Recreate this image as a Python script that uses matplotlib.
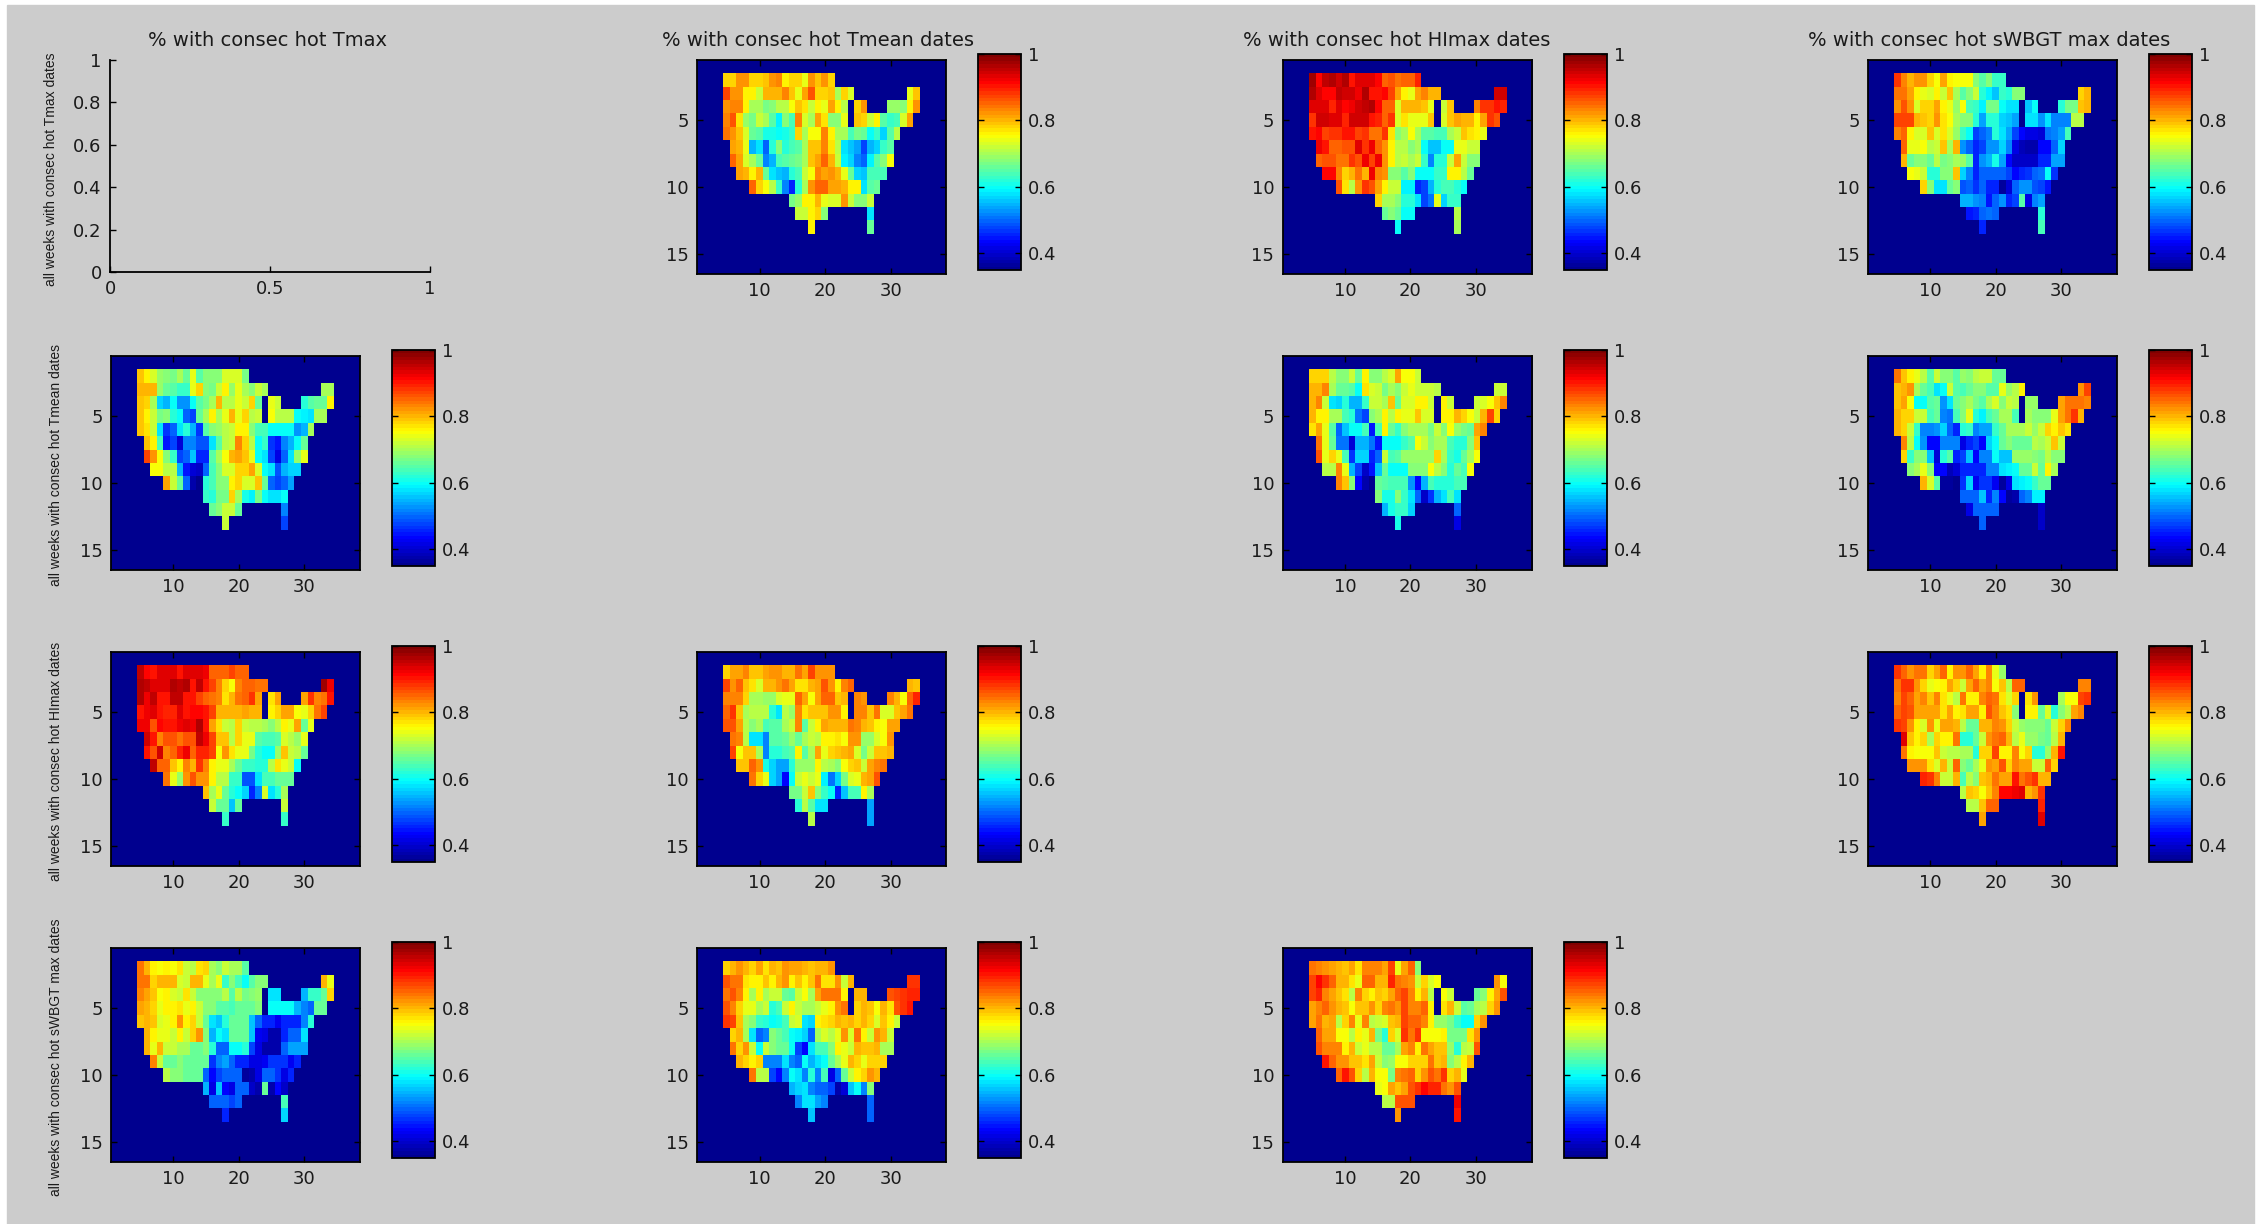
import numpy as np
import matplotlib
matplotlib.use("Agg")
import matplotlib.pyplot as plt
from matplotlib.colors import LinearSegmentedColormap
from matplotlib.patches import Rectangle

W, H = 2262, 1224

# grid cells with data: (row, first column, last column), 1-based
row_spans = {
    2: [(5, 21)],
    3: [(5, 24), (33, 34)],
    4: [(5, 23), (25, 26), (30, 34)],
    5: [(5, 23), (25, 33)],
    6: [(5, 31)],
    7: [(6, 30)],
    8: [(6, 30)],
    9: [(7, 29)],
    10: [(9, 28)],
    11: [(15, 27)],
    12: [(16, 20), (27, 27)],
    13: [(18, 18), (27, 27)],
}

# values in percent, one list per map row 2..13
tmax_vs_tmean = [
    [78,78,82,82,78,78,79,82,83,76,78,78,74,82,79,82,78],
    [87,82,82,76,76,72,80,80,80,83,79,74,81,86,78,78,79,70,78,73,74,79],
    [82,83,83,76,70,70,67,68,71,71,75,79,77,72,76,74,81,76,71,78,82,69,69,68,76,82],
    [83,86,77,69,67,72,70,65,59,68,64,83,73,70,81,77,68,68,74,79,78,72,76,65,63,64,73,81],
    [84,82,79,73,66,65,61,61,60,61,63,78,70,75,75,83,76,70,70,64,67,66,60,63,57,65,71],
    [81,80,74,55,58,50,62,68,62,64,65,70,79,79,83,77,71,58,56,54,48,55,57,63,65],
    [85,81,73,70,66,52,55,64,65,66,67,70,79,81,85,80,72,59,57,52,50,59,65,68,75],
    [81,80,76,80,66,58,56,55,62,64,72,75,83,81,82,80,74,66,57,56,64,64,64],
    [85,78,75,71,63,52,46,62,70,82,85,85,81,81,80,76,76,58,65,66],
    [67,69,76,76,80,74,73,73,82,72,68,68,72],
    [72,72,76,78,68,58],
    [76,66],
]
tmax_vs_himax = [
    [97,91,95,96,94,96,90,93,93,93,91,85,86,84,85,85,89],
    [96,93,91,91,95,94,94,92,96,90,90,91,87,81,76,74,81,83,80,80,94,94],
    [93,93,93,89,93,91,92,94,95,96,91,85,85,73,80,80,80,79,74,72,79,83,88,88,90,89],
    [88,94,94,93,93,89,94,94,94,90,89,85,88,73,77,74,74,74,79,73,79,81,80,80,76,81,88,86],
    [90,91,87,88,88,90,90,87,88,84,84,88,77,68,70,75,70,65,65,64,64,70,72,79,77,76,74],
    [92,90,85,85,86,86,93,88,92,85,82,76,71,71,68,70,60,56,56,60,60,74,74,72,72],
    [85,86,86,84,84,88,86,92,87,92,82,76,71,72,70,72,63,52,62,62,72,81,72,68,68],
    [91,91,83,78,80,84,80,92,83,82,68,68,65,68,60,60,60,63,63,76,76,71,66],
    [86,77,71,82,88,86,81,76,72,72,59,59,46,48,55,62,64,64,62,60],
    [78,70,70,68,62,62,58,48,51,74,57,63,63],
    [66,68,66,60,60,71],
    [60,70],
]
tmax_vs_swbgt = [
    [88,83,80,82,82,78,75,81,76,75,75,75,68,65,68,63,63],
    [84,84,81,76,74,73,76,72,79,70,65,68,72,62,59,56,63,62,68,68,78,80],
    [82,86,82,73,78,78,81,76,74,69,75,64,63,59,67,67,60,58,58,56,60,62,67,67,79,80],
    [87,87,87,80,79,78,82,77,75,70,68,68,62,54,62,62,57,56,54,58,58,53,58,52,52,52,71,71],
    [83,85,76,73,73,79,73,77,73,69,63,60,48,50,52,62,58,54,48,44,42,42,41,51,52,54,64],
    [85,74,74,75,71,72,79,70,80,53,50,46,48,53,53,57,52,42,39,38,38,44,44,50,57],
    [80,66,68,68,66,71,67,68,70,69,65,46,53,55,61,54,44,40,40,40,40,46,46,54,54],
    [75,74,72,62,62,68,68,79,57,52,46,50,50,50,50,48,44,46,47,50,51,60,47],
    [78,68,58,58,66,68,49,50,47,50,46,46,37,41,50,53,53,49,48,45],
    [55,55,53,52,45,50,53,46,48,65,42,52,54],
    [45,46,50,51,50,62],
    [46,64],
]
tmean_vs_tmax = [
    [79,76,73,69,68,67,70,66,74,65,68,68,68,73,73,73,67],
    [80,80,80,69,66,65,63,63,74,78,68,67,72,76,69,74,70,68,72,70,70,70],
    [79,78,70,57,55,60,53,53,60,65,67,70,80,71,71,74,72,78,66,74,72,62,65,66,66,76],
    [79,76,72,67,68,62,60,50,48,66,70,76,70,74,80,74,78,71,72,75,71,71,71,60,59,58,70,70],
    [79,77,72,58,47,50,58,62,55,47,65,68,69,71,72,76,76,68,64,64,60,60,60,60,53,55,70],
    [79,76,64,45,48,41,52,52,49,49,58,65,71,72,83,78,71,60,63,47,45,52,55,60,66],
    [87,82,75,68,63,48,50,56,46,46,65,70,75,80,81,79,74,60,58,48,42,50,58,69,74],
    [75,75,71,71,55,45,41,40,50,64,68,73,73,78,78,81,73,60,58,49,55,57,57],
    [81,72,66,50,38,35,62,64,68,68,76,78,73,73,79,66,50,48,50,54],
    [63,62,67,67,78,70,61,59,67,60,58,58,60],
    [66,68,72,72,66,52],
    [72,48],
]
tmean_vs_himax = [
    [78,78,78,71,68,68,72,66,76,68,68,71,73,81,75,75,72],
    [80,80,83,70,66,66,65,60,77,73,72,67,70,68,72,74,72,72,72,71,72,72],
    [80,83,72,58,57,62,55,55,63,72,72,70,79,66,73,73,76,76,72,76,72,72,73,75,79,83],
    [80,76,76,70,70,64,62,51,48,68,70,76,71,76,74,74,79,73,73,76,76,80,78,75,72,80,87,78],
    [77,81,74,65,50,56,60,60,64,45,64,76,66,63,68,70,70,70,67,72,68,75,69,67,66,81,83],
    [84,74,66,51,51,41,55,55,51,45,60,60,60,63,65,75,72,68,70,70,64,62,62,68,79],
    [86,74,78,74,64,47,57,57,46,50,72,64,65,69,69,69,69,69,78,70,63,61,66,70,75],
    [71,71,83,74,55,48,40,45,56,66,60,60,60,68,68,68,75,71,68,62,66,64,75],
    [83,79,68,44,38,36,66,65,64,64,64,53,44,55,64,62,62,62,64,64],
    [68,61,61,68,63,58,50,40,47,55,58,64,58],
    [55,61,63,63,57,50],
    [61,42],
]
tmean_vs_swbgt = [
    [84,79,76,74,71,65,72,68,68,65,69,68,71,72,72,66,66],
    [79,80,82,70,66,64,58,60,72,65,64,66,68,68,65,65,74,69,71,76,82,87],
    [79,81,75,60,60,65,66,53,58,66,68,70,67,65,70,73,68,72,71,69,69,81,84,84,84,83],
    [80,78,78,72,72,64,66,52,51,64,68,74,62,59,64,66,70,70,64,70,68,68,68,74,81,84,88,80],
    [80,78,72,63,52,52,53,57,50,46,62,63,52,54,54,63,66,70,70,70,72,69,72,78,76,79,77],
    [83,71,60,53,44,44,52,52,52,42,46,48,44,57,60,66,68,66,66,66,71,70,72,79,72],
    [78,63,68,68,56,41,62,65,46,48,56,44,52,52,60,56,56,69,69,69,68,67,71,68,68],
    [68,70,74,68,44,44,39,41,46,46,46,46,52,52,58,59,60,66,66,72,66,76,70],
    [80,73,65,37,37,36,47,57,43,47,47,43,37,42,58,59,60,63,66,66],
    [50,50,50,56,46,52,44,37,38,50,52,59,59],
    [42,50,50,50,50,40],
    [50,40],
]
himax_vs_tmax = [
    [95,91,90,93,93,93,90,93,93,93,92,85,85,85,87,85,85],
    [96,95,93,93,93,96,95,96,90,95,90,87,83,78,75,83,85,85,84,84,97,92],
    [96,92,95,90,90,95,95,90,90,87,85,84,83,77,80,84,85,88,81,77,81,81,88,83,84,90],
    [90,92,93,90,89,89,93,90,91,91,90,87,80,80,80,80,81,80,80,76,78,81,81,75,74,78,84,87],
    [92,92,86,91,90,90,92,93,92,96,90,81,77,72,71,78,72,71,71,70,68,71,76,74,81,66,74],
    [94,90,83,86,86,84,86,86,95,92,87,79,79,71,78,74,74,65,64,64,65,73,71,69,74],
    [90,86,94,83,85,89,92,85,89,89,87,75,82,77,74,74,67,62,60,60,69,79,72,71,66],
    [95,85,85,79,76,83,80,88,83,76,74,74,70,66,63,63,62,62,71,77,74,72,60],
    [84,74,69,82,86,82,82,76,71,71,63,63,49,49,58,64,64,66,66,66],
    [79,70,74,66,62,60,57,46,52,73,58,62,70],
    [72,66,66,56,66,72],
    [63,63],
]
himax_vs_tmean = [
    [78,81,81,83,79,79,81,82,82,80,80,84,81,87,82,82,82],
    [87,82,85,79,77,73,80,80,82,84,81,77,77,80,81,86,82,76,83,85,80,79],
    [83,83,83,78,70,70,69,69,73,74,74,85,81,75,81,85,85,79,80,83,82,83,80,75,85,89],
    [85,88,79,70,71,71,71,62,58,71,69,83,77,79,79,79,82,82,76,83,83,79,84,73,73,79,81,84],
    [86,86,81,71,68,70,64,65,65,70,72,83,65,72,76,81,80,80,80,84,83,80,79,76,75,81,81],
    [84,83,71,58,58,52,65,65,66,69,66,70,72,71,76,76,77,75,82,82,69,69,73,75,82],
    [87,75,79,79,70,52,62,62,64,65,76,65,70,81,74,78,79,80,81,73,67,72,79,79,80],
    [79,79,85,82,61,57,54,54,62,69,69,69,76,71,70,68,75,78,79,72,81,83,84],
    [84,78,74,57,54,44,60,72,74,72,74,59,51,57,67,73,74,80,81,86],
    [67,67,72,79,68,63,60,46,56,64,64,76,70],
    [62,71,65,58,58,54],
    [71,54],
]
himax_vs_swbgt = [
    [88,85,82,84,84,78,81,85,76,82,82,85,81,76,83,74,69],
    [84,88,88,82,78,74,75,76,81,78,72,81,85,81,83,75,79,71,85,85,83,83],
    [83,87,85,81,83,79,83,77,74,71,84,76,76,83,85,84,77,73,78,77,82,70,75,75,87,88],
    [85,87,86,81,81,81,81,77,81,76,77,81,81,76,86,83,79,77,68,76,76,66,73,62,68,71,81,83],
    [88,87,82,76,73,82,74,81,81,80,71,66,66,80,80,83,82,78,72,69,68,68,68,66,72,78,83],
    [93,79,76,78,70,78,76,76,84,62,62,66,72,82,84,85,80,71,74,69,69,67,66,71,80],
    [84,76,75,75,75,79,72,71,71,70,70,62,78,78,87,76,76,83,75,78,62,62,69,80,90],
    [82,82,82,77,73,80,72,85,68,66,70,74,82,81,86,78,83,81,81,72,72,85,78],
    [89,88,83,72,72,80,64,71,68,79,80,84,81,81,90,84,86,88,80,80],
    [71,79,78,75,79,83,91,91,92,93,80,82,88],
    [71,71,79,85,85,89],
    [81,93],
]
swbgt_vs_tmax = [
    [84,80,76,75,76,75,77,72,71,77,78,70,68,72,70,70,65],
    [84,84,78,80,80,80,73,72,80,80,74,70,74,63,68,64,60,65,68,68,80,74],
    [83,81,79,75,76,73,72,77,72,68,68,68,68,71,65,71,67,68,69,58,58,55,63,63,66,78],
    [81,80,78,74,76,76,77,74,76,72,68,68,65,65,64,66,66,66,68,60,60,60,60,55,52,50,66,66],
    [79,80,79,73,74,76,82,76,78,72,66,58,56,62,66,66,66,56,50,46,46,43,46,46,46,52,62],
    [80,76,74,74,72,76,72,78,82,68,55,60,58,66,66,66,56,43,42,38,38,46,50,50,58],
    [80,74,80,72,72,70,70,66,66,68,62,50,50,60,60,62,48,42,38,38,38,50,54,54,54],
    [83,72,66,66,68,66,66,66,66,47,52,54,50,46,46,42,42,43,47,47,47,43,46],
    [71,68,68,66,66,66,50,44,48,50,50,50,37,38,42,50,50,47,42,46],
    [55,42,56,44,42,50,50,40,38,66,38,44,40],
    [50,50,50,48,50,64],
    [46,57],
]
swbgt_vs_tmean = [
    [78,80,82,80,78,81,77,80,79,82,81,81,80,79,80,80,82],
    [86,84,84,77,76,76,79,76,80,82,76,79,76,79,84,77,77,82,72,80,88,88],
    [84,86,83,76,70,76,70,72,72,66,65,72,75,70,81,84,84,84,76,80,80,86,87,88,89,89],
    [86,83,78,74,74,70,72,62,64,72,76,72,70,70,72,74,76,82,84,78,80,79,75,80,77,86,88,90],
    [88,87,79,70,68,63,62,60,61,64,72,73,58,57,76,77,78,80,79,80,78,80,78,73,79,76,72],
    [78,80,70,58,50,52,68,66,64,60,59,57,50,70,73,71,74,82,73,84,76,72,82,80,72],
    [84,78,82,72,60,72,68,66,66,60,48,44,58,64,64,68,76,74,72,80,79,79,80,70,70],
    [80,78,76,78,52,52,52,58,52,50,60,55,58,60,66,70,74,80,78,74,78,78,78],
    [84,71,71,48,44,52,60,58,52,62,52,64,42,50,66,72,76,78,82,80],
    [55,57,58,52,50,50,48,38,41,56,60,52,68],
    [52,58,58,54,52,50],
    [56,50],
]
swbgt_vs_himax = [
    [84,83,82,81,80,79,81,77,83,83,83,81,87,74,81,85,68],
    [87,91,88,85,80,80,77,74,85,85,80,80,89,84,83,82,72,78,73,75,82,75],
    [87,89,83,81,79,77,71,83,78,76,79,78,81,85,87,83,76,80,71,75,72,66,68,76,81,86],
    [81,83,85,82,80,79,75,79,79,82,78,83,84,82,87,83,83,85,76,77,80,72,65,66,70,71,78,82],
    [81,84,80,81,71,78,83,74,83,71,72,73,79,80,87,85,85,83,76,69,69,67,63,60,60,78,82],
    [85,81,81,75,75,71,76,74,80,67,62,78,73,88,84,88,75,75,75,76,67,67,67,77,82],
    [86,83,83,83,76,80,72,74,71,71,66,66,70,81,83,76,84,81,79,79,69,62,71,72,86],
    [90,85,82,82,79,79,77,81,72,68,69,75,75,78,78,78,84,79,80,68,71,76,80],
    [85,90,86,78,71,80,75,75,67,83,84,85,78,82,86,84,88,78,80,74],
    [74,75,81,79,81,86,88,91,89,89,84,82,86],
    [71,71,86,86,86,92],
    [82,90],
]

titles = ["% with consec hot Tmax", "% with consec hot Tmean dates",
          "% with consec hot HImax dates", "% with consec hot sWBGT max dates"]
ylabels = ["all weeks with consec hot Tmax dates", "all weeks with consec hot Tmean dates",
           "all weeks with consec hot HImax dates", "all weeks with consec hot sWBGT max dates"]
map_ticks_x = [10, 20, 30]
map_ticks_y = [5, 10, 15]
cbar_ticks = [0.4, 0.6, 0.8, 1.0]
cbar_labels = ["0.4", "0.6", "0.8", "1"]
empty_x_ticks = [0, 0.5, 1]
empty_y_ticks = [0, 0.2, 0.4, 0.6, 0.8, 1]

panels = {
    (0, 1): tmax_vs_tmean, (0, 2): tmax_vs_himax, (0, 3): tmax_vs_swbgt,
    (1, 0): tmean_vs_tmax, (1, 2): tmean_vs_himax, (1, 3): tmean_vs_swbgt,
    (2, 0): himax_vs_tmax, (2, 1): himax_vs_tmean, (2, 3): himax_vs_swbgt,
    (3, 0): swbgt_vs_tmax, (3, 1): swbgt_vs_tmean, (3, 2): swbgt_vs_himax,
}

plt.rcParams["font.family"] = "DejaVu Sans"
GRAY = "#cccccc"
INK = "#1a1a1a"
BG_BLUE = (0, 0, 0.5625)
jet_m = LinearSegmentedColormap.from_list(
    "jet_m",
    [(0, BG_BLUE), (8 / 64, (0, 0, 1)), (24 / 64, (0, 1, 1)), (40 / 64, (1, 1, 0)),
     (56 / 64, (1, 0, 0)), (1, (0.5, 0, 0))], N=64)
jet_m.set_bad(BG_BLUE)
CLIM = (0.35, 1.0)

col_left = [111.0, 697.3, 1282.7, 1868.0]
row_top = [60.0, 356.0, 652.0, 948.0]
AX_W, AX_H = 249.0, 214.0
title_center = [267, 818, 1397, 1989]
TICK_FS = 13


def add_axes_px(x0, y0, x1, y1):
    return fig.add_axes([x0 / W, 1 - y1 / H, (x1 - x0) / W, (y1 - y0) / H])


def to_grid(rows):
    grid = np.full((16, 38), np.nan)
    for (row, spans), vals in zip(row_spans.items(), rows):
        cols = [c for a, b in spans for c in range(a, b + 1)]
        vals = list(vals) + [vals[-1]] * (len(cols) - len(vals))
        for c, v in zip(cols, vals):
            grid[row - 1, c - 1] = v / 100
    return grid


def style_ticks(ax):
    ax.tick_params(direction="in", length=4, width=1, colors="black",
                   labelsize=TICK_FS, labelcolor=INK, pad=6,
                   top=True, right=True)
    for s in ax.spines.values():
        s.set_linewidth(1.3)


fig = plt.figure(figsize=(W / 100, H / 100), dpi=100, facecolor="white")
fig.add_artist(Rectangle((7 / W, 0), (2254 - 7) / W, 1 - 5 / H,
                         transform=fig.transFigure, color=GRAY, zorder=-10))

for (r, c), rows in panels.items():
    x0, y0 = col_left[c], row_top[r]
    ax = add_axes_px(x0, y0, x0 + AX_W, y0 + AX_H)
    im = ax.imshow(to_grid(rows), cmap=jet_m, vmin=CLIM[0], vmax=CLIM[1],
                   extent=(0.5, 38.5, 16.5, 0.5), aspect="auto", interpolation="nearest")
    ax.set_xticks(map_ticks_x)
    ax.set_yticks(map_ticks_y)
    style_ticks(ax)
    cax = add_axes_px(x0 + 281, y0 - 6, x0 + 281 + 43, y0 + AX_H - 4)
    cb = fig.colorbar(im, cax=cax)
    cb.set_ticks(cbar_ticks)
    cb.set_ticklabels(cbar_labels)
    cb.ax.tick_params(direction="in", length=4, width=1, labelsize=TICK_FS,
                      labelcolor=INK, pad=5, left=True, right=True)
    cb.outline.set_linewidth(1.3)

# the empty top-left axes
ax0 = add_axes_px(110, 60, 430, 272)
ax0.set_facecolor("none")
ax0.set_xlim(0, 1)
ax0.set_ylim(0, 1)
ax0.set_xticks(empty_x_ticks)
ax0.set_xticklabels(["0", "0.5", "1"])
ax0.set_yticks(empty_y_ticks)
ax0.set_yticklabels(["0", "0.2", "0.4", "0.6", "0.8", "1"])
ax0.spines["top"].set_visible(False)
ax0.spines["right"].set_visible(False)
ax0.spines["left"].set_linewidth(1.3)
ax0.spines["bottom"].set_linewidth(1.3)
ax0.tick_params(direction="in", length=4, width=1, labelsize=TICK_FS,
                labelcolor=INK, pad=6)

# column titles and row labels
for c, t in enumerate(titles):
    fig.text(title_center[c] / W, 1 - 40 / H, t, ha="center", va="center",
             fontsize=14, color=INK)
label_x = [51, 56, 56, 56]
for r, t in enumerate(ylabels):
    fig.text(label_x[r] / W, 1 - (row_top[r] + AX_H / 2 + 2) / H, t, rotation=90,
             ha="center", va="center", fontsize=10, color=INK,
             family="Liberation Sans")

fig.savefig("out.png", dpi=100, facecolor=fig.get_facecolor())
